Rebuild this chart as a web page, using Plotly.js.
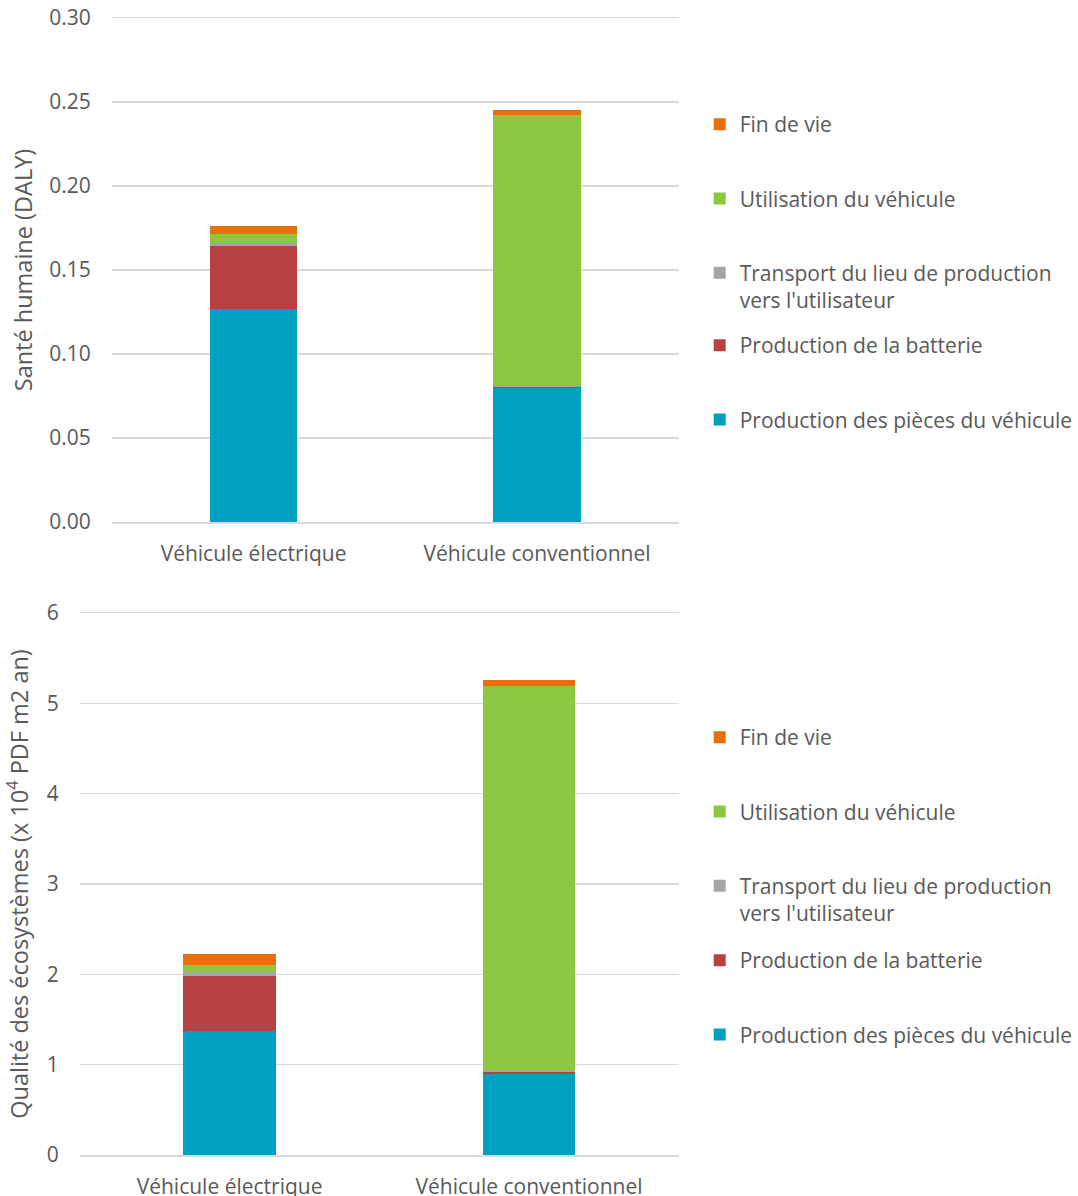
<!DOCTYPE html>
<html>
<head>
<meta charset="utf-8">
<script src="https://cdn.plot.ly/plotly-3.0.1.min.js"></script>
<style>html,body{margin:0;padding:0;background:#fff;}#chart{width:1078px;height:1196px;}</style>
</head>
<body>
<div id="chart"></div>
<script>
// Data
const categories = ["Véhicule électrique", "Véhicule conventionnel"];
const seriesNames = [
  "Production des pièces du véhicule",
  "Production de la batterie",
  "Transport du lieu de production<br>vers l'utilisateur",
  "Utilisation du véhicule",
  "Fin de vie"
];
const seriesColors = ["#00A0C0", "#B84242", "#A5A5A5", "#8DC63F", "#E8700C"];
// Santé humaine (DALY)
const healthPieces    = [0.127, 0.0795];
const healthBatterie  = [0.037, 0.001];
const healthTransport = [0.0018, 0.001];
const healthUtil      = [0.0054, 0.161];
const healthFin       = [0.0048, 0.003];
// Qualité des écosystèmes (x 10^4 PDF m2 an)
const ecoPieces    = [1.373, 0.897];
const ecoBatterie  = [0.61, 0.02];
const ecoTransport = [0.04, 0.02];
const ecoUtil      = [0.08, 4.25];
const ecoFin       = [0.12, 0.066];
const healthTicks = [0, 0.05, 0.10, 0.15, 0.20, 0.25, 0.30];
const ecoTicks = [0, 1, 2, 3, 4, 5, 6];

const healthSeries = [healthPieces, healthBatterie, healthTransport, healthUtil, healthFin];
const ecoSeries = [ecoPieces, ecoBatterie, ecoTransport, ecoUtil, ecoFin];

const W = 1078, H = 1196;
const FONT = "Open Sans, sans-serif";
const TXT = "#595959";
const GRID = "#D9D9D9";

function legendFor(i, top) {
  // transport, utilisation, fin -> upper legend; pièces, batterie -> lower legend
  return (i >= 2) ? (top ? "legend" : "legend3") : (top ? "legend2" : "legend4");
}

const traces = [];
healthSeries.forEach((vals, i) => {
  traces.push({
    type: "bar", x: categories, y: vals, name: seriesNames[i],
    marker: {color: seriesColors[i], line: {width: 0}},
    xaxis: "x", yaxis: "y", legend: legendFor(i, true),
    legendgroup: "h" + i, legendrank: 10 - i, hoverinfo: "y+name"
  });
});
ecoSeries.forEach((vals, i) => {
  traces.push({
    type: "bar", x: categories, y: vals, name: seriesNames[i],
    marker: {color: seriesColors[i], line: {width: 0}},
    xaxis: "x2", yaxis: "y2", legend: legendFor(i, false),
    legendgroup: "e" + i, legendrank: 10 - i, hoverinfo: "y+name"
  });
});

function px2x(p) { return p / W; }
function px2y(p) { return 1 - p / H; }

function mkLegend(topPx) {
  return {
    x: px2x(701), xanchor: "left",
    y: px2y(topPx), yanchor: "top",
    traceorder: "grouped",
    tracegroupgap: 44,
    valign: "top",
    bgcolor: "rgba(0,0,0,0)",
    font: {family: FONT, size: 21, color: TXT}
  };
}

const axisFont = {family: FONT, size: 21, color: TXT};
const titleFont = {family: FONT, size: 23.5, color: TXT};

const layout = {
  width: W, height: H,
  margin: {l: 0, r: 0, t: 0, b: 0},
  paper_bgcolor: "#ffffff", plot_bgcolor: "#ffffff",
  barmode: "stack", bargap: 0.69,
  font: {family: FONT, color: TXT},
  xaxis: {
    domain: [px2x(112), px2x(680)], anchor: "y",
    type: "category", showgrid: false,
    showline: true, mirror: true, linecolor: GRID, linewidth: 1.5,
    ticks: "", tickfont: axisFont, ticklabelstandoff: 12, automargin: false
  },
  yaxis: {
    domain: [px2y(522), px2y(18)], anchor: "x",
    range: [0, 0.30], tickvals: healthTicks, tickformat: ".2f",
    showgrid: true, gridcolor: GRID, gridwidth: 1.5,
    zeroline: false, showline: false,
    ticks: "", tickfont: axisFont, ticklabelstandoff: 20, automargin: false,
    title: {text: "Santé humaine (DALY)", font: titleFont, standoff: 10}
  },
  xaxis2: {
    domain: [px2x(80), px2x(680)], anchor: "y2",
    type: "category", showgrid: false,
    showline: true, mirror: true, linecolor: GRID, linewidth: 1.5,
    ticks: "", tickfont: axisFont, ticklabelstandoff: 12, automargin: false
  },
  yaxis2: {
    domain: [px2y(1155), px2y(613)], anchor: "x2",
    range: [0, 6], tickvals: ecoTicks,
    showgrid: true, gridcolor: GRID, gridwidth: 1.5,
    zeroline: false, showline: false,
    ticks: "", tickfont: axisFont, ticklabelstandoff: 20, automargin: false,
    title: {text: "Qualité des écosystèmes (x 10<sup>4</sup> PDF m2 an)", font: titleFont, standoff: 11}
  },
  legend: mkLegend(104),
  legend2: mkLegend(325),
  legend3: mkLegend(717),
  legend4: mkLegend(940),
  showlegend: true
};

Plotly.newPlot("chart", traces, layout, {displayModeBar: false, staticPlot: true});
</script>
</body>
</html>
